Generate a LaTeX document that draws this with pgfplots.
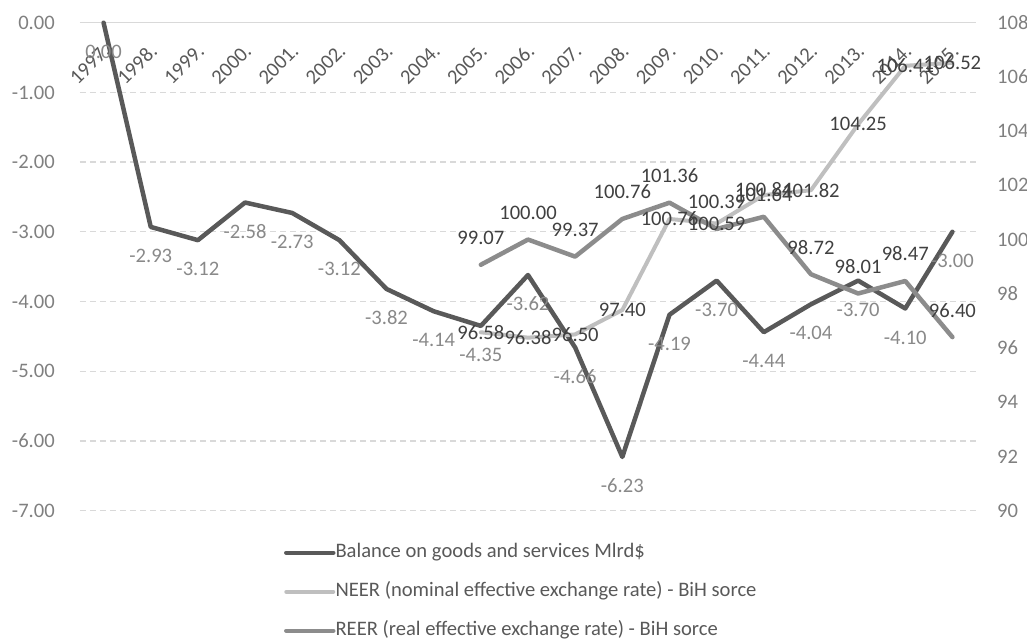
\documentclass[border=0pt]{standalone}
\usepackage{fontspec}
\setmainfont{Carlito}
\usepackage{pgfplots}
\pgfplotsset{compat=1.18}
\usepackage{pgfplotstable}

\definecolor{balline}{HTML}{595959}
\definecolor{neerline}{HTML}{BFBFBF}
\definecolor{reerline}{HTML}{8C8C8C}
\definecolor{gridc}{HTML}{D9D9D9}
\definecolor{ticktxt}{HTML}{808080}
\definecolor{cattxt}{HTML}{595959}
\definecolor{lbldark}{HTML}{404040}
\definecolor{lblgray}{HTML}{898989}

% Balance on goods and services (Mlrd$), 1997.-2015. (index 0 = 1997.)
\pgfplotstableread{
x y
0 0.00
1 -2.93
2 -3.12
3 -2.58
4 -2.73
5 -3.12
6 -3.82
7 -4.14
8 -4.35
9 -3.62
10 -4.66
11 -6.23
12 -4.19
13 -3.70
14 -4.44
15 -4.04
16 -3.70
17 -4.10
18 -3.00
}\balance

% Nominal effective exchange rate, 2005.-2015.
\pgfplotstableread{
x y
8 96.58
9 96.38
10 96.50
11 97.40
12 100.76
13 100.59
14 101.64
15 101.82
16 104.25
17 106.41
18 106.52
}\neer

% Real effective exchange rate, 2005.-2015.
\pgfplotstableread{
x y
8 99.07
9 100.00
10 99.37
11 100.76
12 101.36
13 100.39
14 100.84
15 98.72
16 98.01
17 98.47
18 96.40
}\reer

\newcommand{\chartfont}{\fontsize{20.6pt}{24pt}\selectfont}

\begin{document}
\begin{tikzpicture}
\useasboundingbox (-80pt,-130.4pt) rectangle (947pt,510.6pt);

% left axis: trade balance
\begin{axis}[
  at={(0pt,0pt)}, anchor=south west,
  scale only axis, width=896pt, height=487.9pt,
  xmin=-0.5, xmax=18.5, ymin=-7, ymax=0,
  clip=false,
  axis x line*=top, axis y line*=left,
  x axis line style={draw=gridc, line width=1.3pt, -},
  y axis line style={draw=none},
  major tick length=0pt,
  xtick={0,...,18},
  xticklabels={1997.,1998.,1999.,2000.,2001.,2002.,2003.,2004.,2005.,2006.,2007.,2008.,2009.,2010.,2011.,2012.,2013.,2014.,2015.},
  ytick={-7,-6,-5,-4,-3,-2,-1,0},
  ymajorgrids,
  major grid style={draw=gridc, line width=1.3pt, dash pattern=on 6pt off 4pt},
  /pgf/number format/assume math mode=true,
  yticklabel style={font=\chartfont, text=ticktxt, inner sep=0pt, anchor=east, xshift=-25pt,
    /pgf/number format/.cd, fixed, fixed zerofill, precision=2},
  xticklabel style={font=\chartfont, text=cattxt, inner sep=0pt, anchor=east,
    xshift=3pt, yshift=-25pt, rotate=45},
]
\addplot[balline, line width=4.5pt, line join=round, line cap=round,
  nodes near coords={\pgfmathprintnumber[fixed,fixed zerofill,precision=2]{\pgfplotspointmeta}},
  every node near coord/.append style={font=\chartfont, text=lblgray, anchor=center,
    yshift=-29pt, inner sep=0pt},
] table[x=x,y=y] {\balance};
\end{axis}

% right axis: exchange rate indices
\begin{axis}[
  at={(0pt,0pt)}, anchor=south west,
  scale only axis, width=896pt, height=487.9pt,
  xmin=-0.5, xmax=18.5, ymin=90, ymax=108,
  clip=false,
  axis x line=none, axis y line*=right,
  y axis line style={draw=none},
  major tick length=0pt,
  ytick={90,92,...,108},
  /pgf/number format/assume math mode=true,
  yticklabel style={font=\chartfont, text=ticktxt, inner sep=0pt, anchor=west, xshift=21pt},
  legend image code/.code={\draw[#1, line cap=round] (0pt,0pt) -- (47pt,0pt);},
  legend style={at={(0.2277,-0.068)}, anchor=north west, draw=none, fill=none,
    inner sep=0pt, outer sep=0pt, row sep=21pt, font=\chartfont, text=cattxt,
    cells={anchor=west},
    nodes={inner sep=0pt, text height=14pt, text depth=4pt}},
  nodes near coords={\pgfmathprintnumber[fixed,fixed zerofill,precision=2]{\pgfplotspointmeta}},
]
\addlegendimage{balline, line width=4.5pt}
\addlegendentry{Balance on goods and services Mlrd\$}

\addplot[neerline, line width=4pt, line join=round, line cap=round,
  every node near coord/.append style={font=\chartfont, text=lbldark, anchor=center, inner sep=0pt},
] table[x=x,y=y] {\neer};
\addlegendentry{NEER (nominal effective exchange rate) - BiH sorce}

\addplot[reerline, line width=4.5pt, line join=round, line cap=round,
  every node near coord/.append style={font=\chartfont, text=lbldark, anchor=center,
    yshift=27pt, inner sep=0pt},
] table[x=x,y=y] {\reer};
\addlegendentry{REER (real effective exchange rate) - BiH sorce}
\end{axis}
\end{tikzpicture}
\end{document}
